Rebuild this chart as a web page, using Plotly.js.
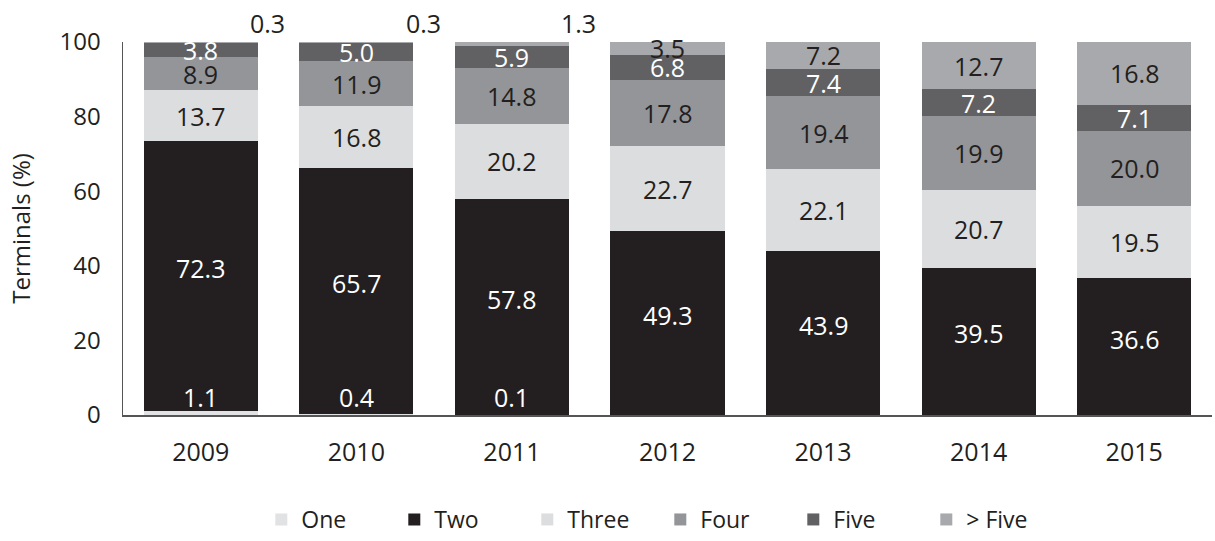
<!DOCTYPE html>
<html>
<head>
<meta charset="utf-8">
<script src="https://cdn.plot.ly/plotly-3.0.1.min.js"></script>
<style>html,body{margin:0;padding:0;background:#fff;}#chart{width:1215px;height:541px;}</style>
</head>
<body>
<div id="chart"></div>
<script>
const years = ['2009', '2010', '2011', '2012', '2013', '2014', '2015'];
const seriesNames = ['One', 'Two', 'Three', 'Four', 'Five', '> Five'];
const one = [1.1, 0.4, 0.1, 0, 0, 0, 0];
const two = [72.3, 65.7, 57.8, 49.3, 43.9, 39.5, 36.6];
const three = [13.7, 16.8, 20.2, 22.7, 22.1, 20.7, 19.5];
const four = [8.9, 11.9, 14.8, 17.8, 19.4, 19.9, 20.0];
const five = [3.8, 5.0, 5.9, 6.8, 7.4, 7.2, 7.1];
const moreFive = [0.3, 0.3, 1.3, 3.5, 7.2, 12.7, 16.8];
const yTicks = [0, 20, 40, 60, 80, 100];

const allSeries = [one, two, three, four, five, moreFive];
const colors = ['#e1e2e4', '#231f20', '#dcdddf', '#939598', '#616163', '#a8a9ad'];
const labelColors = ['#ffffff', '#ffffff', '#231f20', '#231f20', '#ffffff', '#231f20'];
const FONT = '"Open Sans", "Noto Sans", sans-serif';

const traces = allSeries.map((vals, k) => ({
  type: 'bar',
  name: seriesNames[k],
  x: years,
  y: vals,
  marker: {color: colors[k], line: {width: 0}},
  hoverinfo: 'skip'
}));

const annotations = [];
years.forEach((yr, i) => {
  let base = 0;
  allSeries.forEach((vals, k) => {
    const v = vals[i];
    if (v > 0) {
      const ann = {
        x: i, xref: 'x', yref: 'y',
        text: v.toFixed(1),
        showarrow: false,
        font: {family: FONT, size: 25, color: labelColors[k]},
        xanchor: 'center', yanchor: 'middle'
      };
      if (k === 0) {
        ann.y = 0; ann.yshift = 18;
      } else if (k === 5 && v < 2) {
        ann.y = 100; ann.yshift = 19; ann.xshift = 67;
        ann.font = {family: FONT, size: 25, color: '#231f20'};
      } else if (k === 1) {
        ann.y = base + v / 2; ann.yshift = 8;
      } else {
        ann.y = base + v / 2;
      }
      annotations.push(ann);
    }
    base += v;
  });
});

const layout = {
  width: 1215, height: 541,
  margin: {l: 123, r: 3, t: 42, b: 126},
  paper_bgcolor: '#ffffff', plot_bgcolor: '#ffffff',
  barmode: 'stack',
  bargap: 0.267,
  font: {family: FONT, size: 24, color: '#231f20'},
  showlegend: true,
  legend: {
    orientation: 'h', xref: 'paper', x: 0.127, xanchor: 'left',
    yref: 'container', y: 0.0, yanchor: 'bottom',
    entrywidth: 88, entrywidthmode: 'pixels',
    font: {family: FONT, size: 23, color: '#231f20'},
    traceorder: 'normal', itemclick: false, itemdoubleclick: false
  },
  xaxis: {
    type: 'category', range: [-0.5, 6.5],
    showline: true, linecolor: '#555555', linewidth: 1.5,
    ticks: '', showgrid: false, zeroline: false,
    tickfont: {family: FONT, size: 25, color: '#231f20'},
    ticklabelstandoff: 14,
    layer: 'below traces'
  },
  yaxis: {
    range: [0, 100], tickvals: yTicks, ticktext: yTicks.map(String),
    showline: true, linecolor: '#555555', linewidth: 1.5,
    ticks: '', showgrid: false, zeroline: false,
    tickfont: {family: FONT, size: 24, color: '#231f20'},
    ticklabelstandoff: 16,
    title: {text: 'Terminals (%)', font: {family: FONT, size: 24, color: '#231f20'}, standoff: 22},
    layer: 'below traces'
  },
  annotations: annotations
};

Plotly.newPlot('chart', traces, layout, {displayModeBar: false, staticPlot: true}).catch(e => {
  document.body.insertAdjacentHTML('beforeend', '<pre>' + e + '</pre>');
});
</script>
</body>
</html>
